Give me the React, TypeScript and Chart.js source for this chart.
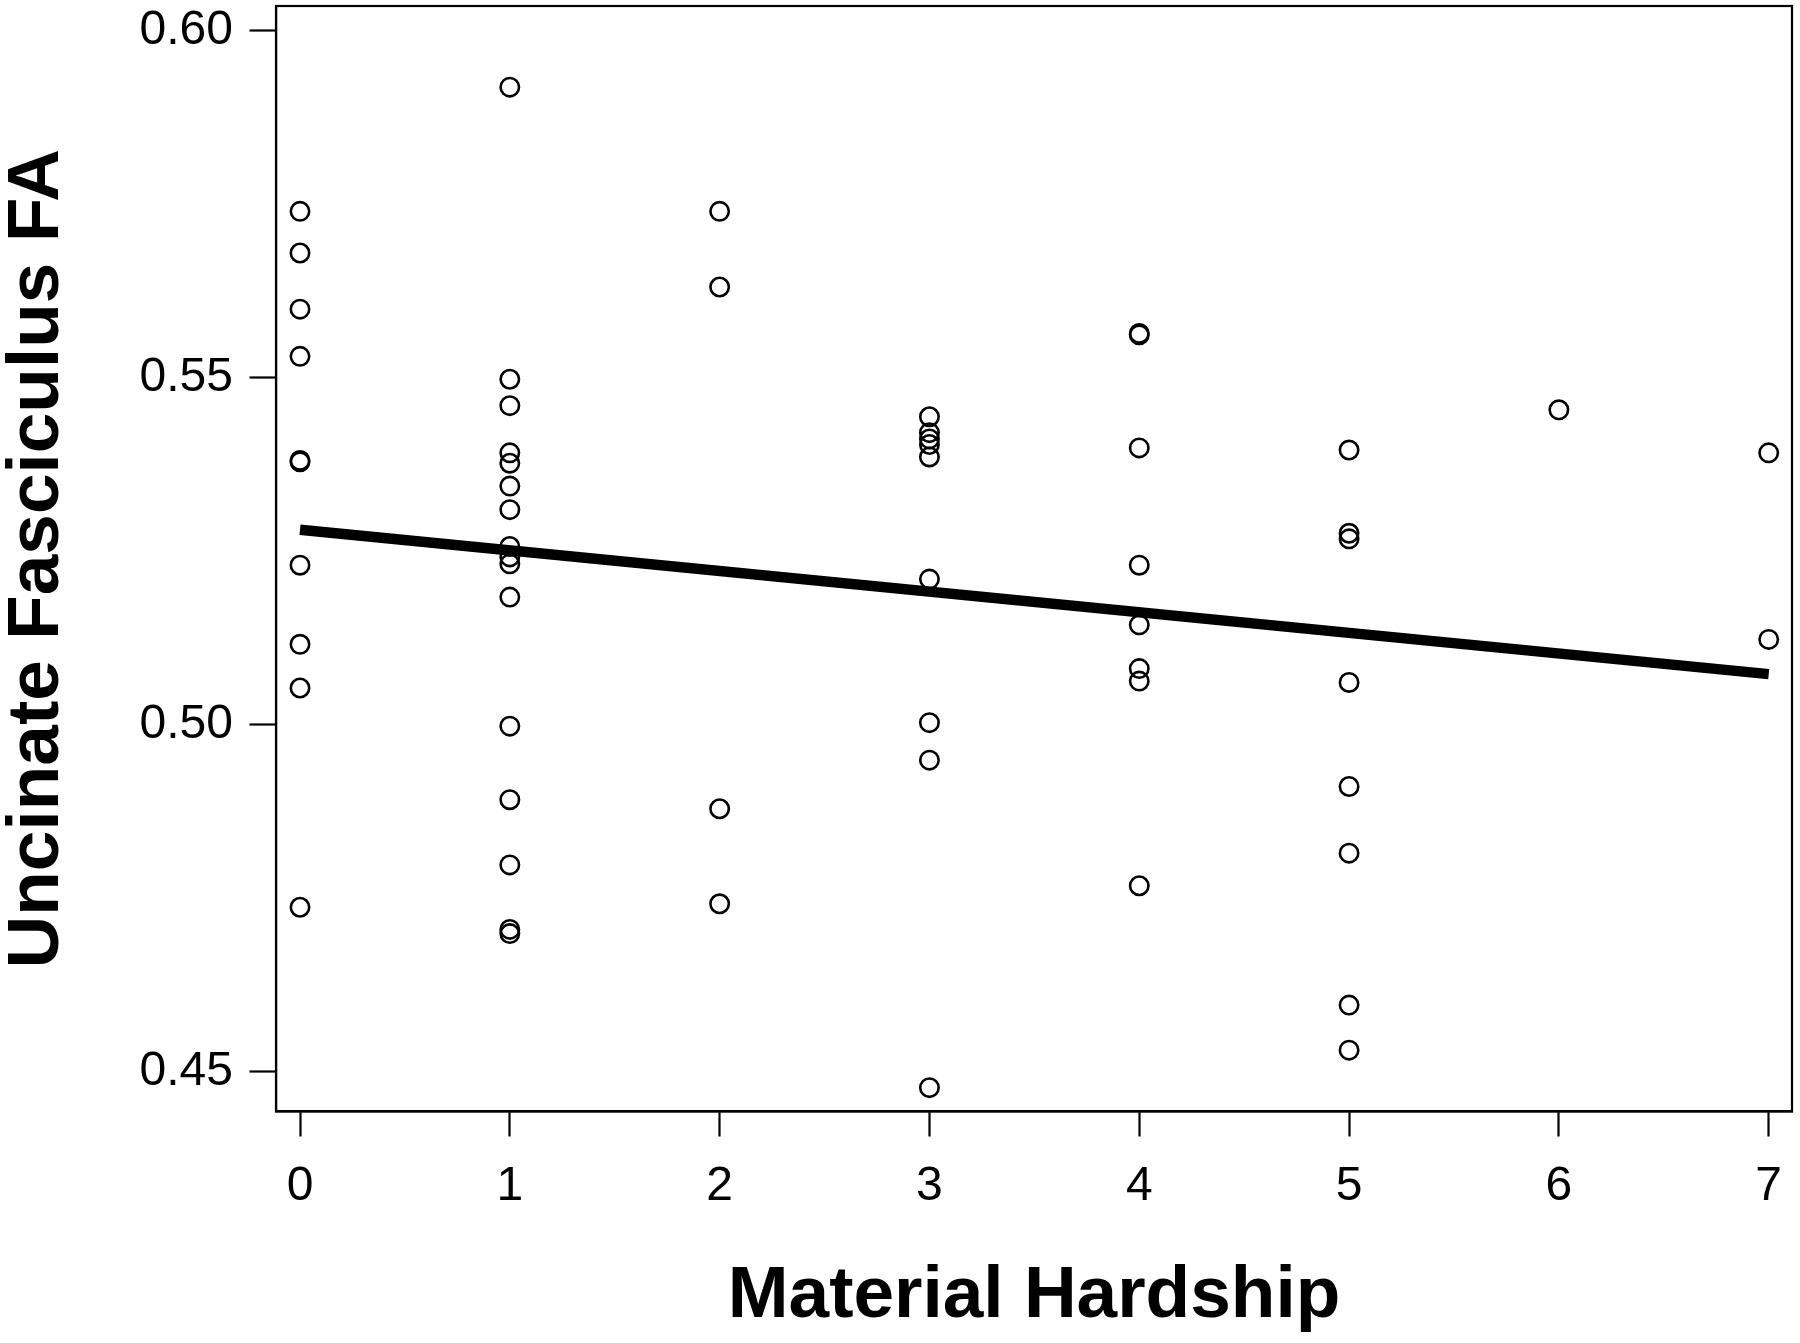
import React, { useEffect, useRef } from "react";
import { Chart, registerables } from "chart.js";

Chart.register(...registerables);

// Material hardship levels (x) and the Uncinate Fasciculus FA values observed at each level
const hardshipLevels = [0, 1, 2, 3, 4, 5, 6, 7];
const faAt0 = [0.574, 0.568, 0.5599, 0.5531, 0.5381, 0.5379, 0.523, 0.5116, 0.5053, 0.4737];
const faAt1 = [0.5919, 0.5498, 0.546, 0.5392, 0.5377, 0.5344, 0.531, 0.5257, 0.5242, 0.5232, 0.5184, 0.4998, 0.4892, 0.4798, 0.4705, 0.4699];
const faAt2 = [0.574, 0.5631, 0.4879, 0.4742];
const faAt3 = [0.5444, 0.5421, 0.5412, 0.5404, 0.5386, 0.521, 0.5003, 0.4949, 0.4477];
const faAt4 = [0.5564, 0.5562, 0.5399, 0.523, 0.5144, 0.5081, 0.5063, 0.4768];
const faAt5 = [0.5396, 0.5276, 0.5268, 0.5061, 0.4911, 0.4815, 0.4596, 0.4531];
const faAt6 = [0.5454];
const faAt7 = [0.5392, 0.5123];
const faGroups = [faAt0, faAt1, faAt2, faAt3, faAt4, faAt5, faAt6, faAt7];

// Fitted regression line end points
const fitX = [0, 7];
const fitY = [0.5281, 0.5073];

// Axis ticks and titles
const xTicks = [0, 1, 2, 3, 4, 5, 6, 7];
const yTicks = [0.45, 0.5, 0.55, 0.6];
const xTitle = "Material Hardship";
const yTitle = "Uncinate Fasciculus FA";

const FAMILY = '"Liberation Sans", Arial, Helvetica, sans-serif';

// Plot-area box in canvas pixels
const AREA = { left: 276, right: 1792, top: 6, bottom: 1111.5 };

export default function App() {
  const ref = useRef<HTMLCanvasElement>(null);

  useEffect(() => {
    if (!ref.current) return;
    const points = hardshipLevels.flatMap((h, i) => faGroups[i].map((v) => ({ x: h, y: v })));
    const fit = fitX.map((x, i) => ({ x, y: fitY[i] }));

    const areaPlugin = {
      id: "fixedArea",
      afterLayout(chart: any) {
        const a = chart.chartArea;
        a.left = AREA.left;
        a.right = AREA.right;
        a.top = AREA.top;
        a.bottom = AREA.bottom;
        a.width = AREA.right - AREA.left;
        a.height = AREA.bottom - AREA.top;
        const x = chart.scales.x;
        x.left = AREA.left;
        x.right = AREA.right;
        x.width = AREA.right - AREA.left;
        x.top = AREA.bottom;
        x.height = x.bottom - x.top;
        x.configure();
        const y = chart.scales.y;
        y.top = AREA.top;
        y.bottom = AREA.bottom;
        y.height = AREA.bottom - AREA.top;
        y.right = AREA.left;
        y.width = y.right - y.left;
        y.configure();
      },
    };

    const boxPlugin = {
      id: "box",
      afterDraw(chart: any) {
        const { ctx, chartArea: a } = chart;
        ctx.save();
        ctx.strokeStyle = "#000";
        ctx.lineWidth = 2.2;
        ctx.strokeRect(a.left, a.top, a.right - a.left, a.bottom - a.top);
        ctx.restore();
      },
    };

    const chart = new Chart(ref.current, {
      type: "scatter",
      data: {
        datasets: [
          {
            type: "line",
            data: fit,
            borderColor: "#000",
            borderWidth: 10.5,
            borderCapStyle: "butt",
            pointRadius: 0,
            fill: false,
            order: 0,
          } as any,
          {
            type: "scatter",
            data: points,
            pointStyle: "circle",
            pointRadius: 9.2,
            borderWidth: 2.6,
            borderColor: "#000",
            backgroundColor: "rgba(0,0,0,0)",
            order: 1,
          } as any,
        ],
      },
      options: {
        animation: false,
        responsive: true,
        maintainAspectRatio: false,
        layout: { padding: { top: 6, right: 8, left: 0, bottom: 0 } },
        plugins: { legend: { display: false }, tooltip: { enabled: false } },
        scales: {
          x: {
            type: "linear",
            position: "bottom",
            min: -0.1144,
            max: 7.111,
            afterBuildTicks: (s: any) => {
              s.ticks = xTicks.map((v) => ({ value: v }));
            },
            afterFit: (s: any) => {
              s.height = 231.5;
              s.paddingLeft = 0;
              s.paddingRight = 0;
            },
            grid: { drawOnChartArea: false, drawTicks: true, tickLength: 25, tickWidth: 2.2, tickColor: "#000" },
            border: { display: true, color: "#000", width: 2.2 },
            ticks: {
              color: "#000",
              padding: 21,
              maxRotation: 0,
              autoSkip: false,
              font: { family: FAMILY, size: 48 },
              callback: (v: any) => String(v),
            },
            title: {
              display: true,
              text: xTitle,
              color: "#000",
              font: { family: FAMILY, size: 73, weight: "bold", lineHeight: 1 },
              padding: { top: 0, bottom: 9.5 },
            },
          },
          y: {
            type: "linear",
            position: "left",
            min: 0.44426,
            max: 0.6036,
            afterBuildTicks: (s: any) => {
              s.ticks = yTicks.map((v) => ({ value: v }));
            },
            afterFit: (s: any) => {
              s.width = 276;
              s.paddingTop = 0;
              s.paddingBottom = 0;
            },
            grid: { drawOnChartArea: false, drawTicks: true, tickLength: 26.5, tickWidth: 2.2, tickColor: "#000" },
            border: { display: true, color: "#000", width: 2.2 },
            ticks: {
              color: "#000",
              padding: 16.5,
              autoSkip: false,
              font: { family: FAMILY, size: 48 },
              callback: (v: any) => Number(v).toFixed(2),
            },
            title: {
              display: true,
              text: yTitle,
              color: "#000",
              font: { family: FAMILY, size: 73, weight: "bold", lineHeight: 1 },
              padding: { top: 1, bottom: 0 },
            },
          },
        },
      } as any,
      plugins: [areaPlugin, boxPlugin],
    });

    return () => chart.destroy();
  }, []);

  return (
    <div style={{ position: "absolute", left: 0, top: 0, width: 1800, height: 1343, background: "#fff" }}>
      <canvas ref={ref} />
    </div>
  );
}
